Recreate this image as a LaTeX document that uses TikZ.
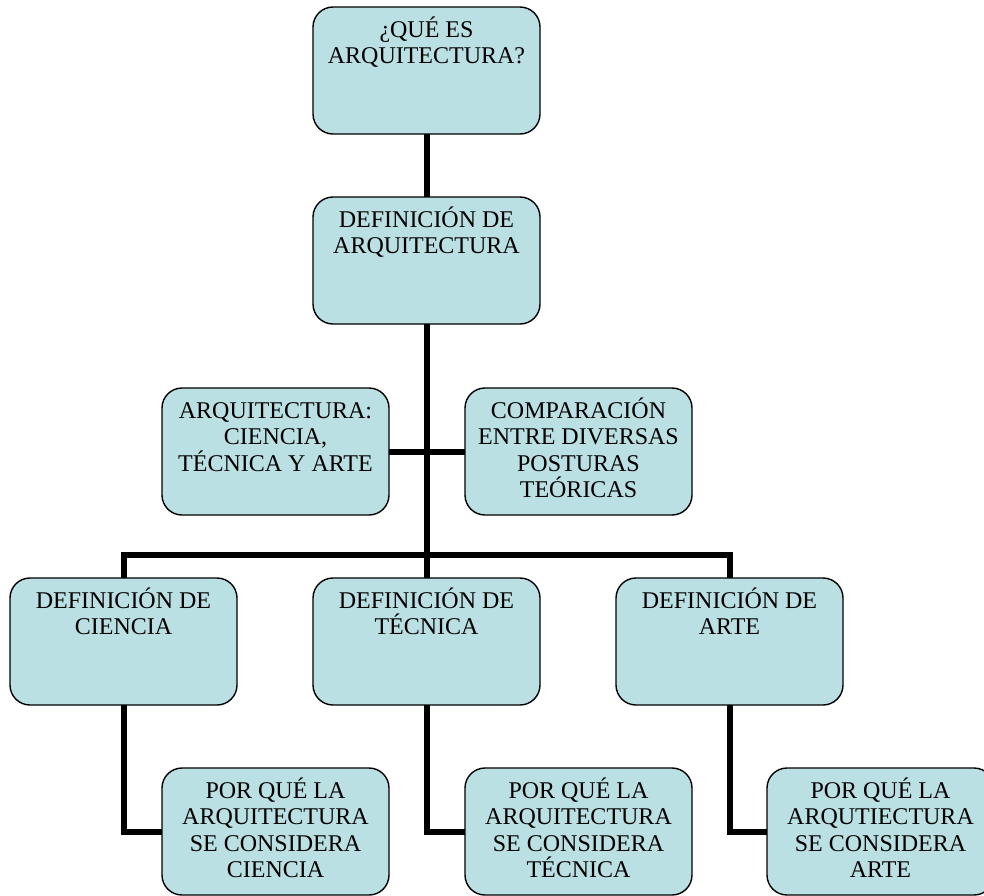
\documentclass[tikz,border=0pt]{standalone}
\usepackage{fontspec}
\setmainfont{Liberation Serif}
\definecolor{boxfill}{RGB}{187,224,227}
\newcommand\boxtext[1]{\parbox[c][127pt][t]{227pt}{\centering\fontsize{24}{26.5}\selectfont\rule{0pt}{30pt}#1}}
\tikzset{
  box/.style={draw=black, line width=1.4pt, fill=boxfill, rounded corners=20pt, inner sep=0pt, outer sep=0pt, anchor=north west},
  conn/.style={draw=black, line width=6pt, line cap=butt, line join=miter}
}
\begin{document}
\begin{tikzpicture}[x=1pt,y=-1pt]
\useasboundingbox (0,0) rectangle (984,895);
\clip (0,0) rectangle (984,895);
% connectors first (behind boxes)
\coordinate (bus) at (427,555);
% boxes
\node[box] (q)  at (313,7)   {\boxtext{¿QUÉ ES\\ARQUITECTURA?}};
\node[box] (da) at (313,197) {\boxtext{DEFINICIÓN DE\\ARQUITECTURA}};
\node[box] (ac) at (162,388) {\boxtext{ARQUITECTURA:\\CIENCIA,\\TÉCNICA Y ARTE}};
\node[box] (co) at (465,388) {\boxtext{COMPARACIÓN\\ENTRE DIVERSAS\\POSTURAS\\TEÓRICAS}};
\node[box] (dc) at (10,578)  {\boxtext{DEFINICIÓN DE\\CIENCIA}};
\node[box] (dt) at (313,578) {\boxtext{DEFINICIÓN DE\\TÉCNICA}};
\node[box] (dar) at (616,578) {\boxtext{DEFINICIÓN DE\\ARTE}};
\node[box] (pc) at (162,768) {\boxtext{POR QUÉ LA\\ARQUITECTURA\\SE CONSIDERA\\CIENCIA}};
\node[box] (pt) at (465,768) {\boxtext{POR QUÉ LA\\ARQUITECTURA\\SE CONSIDERA\\TÉCNICA}};
\node[box] (pa) at (767,768) {\boxtext{POR QUÉ LA\\ARQUTIECTURA\\SE CONSIDERA\\ARTE}};
% connectors
\draw[conn] (q.south) -- (da.north);
\draw[conn] (da.south) -- (dt.north);
\draw[conn] (ac.east) -- (co.west);
\draw[conn] (dc.north) |- (bus) -| (dar.north);
\draw[conn] (dc.south) |- (pc.west);
\draw[conn] (dt.south) |- (pt.west);
\draw[conn] (dar.south) |- (pa.west);
\end{tikzpicture}
\end{document}
